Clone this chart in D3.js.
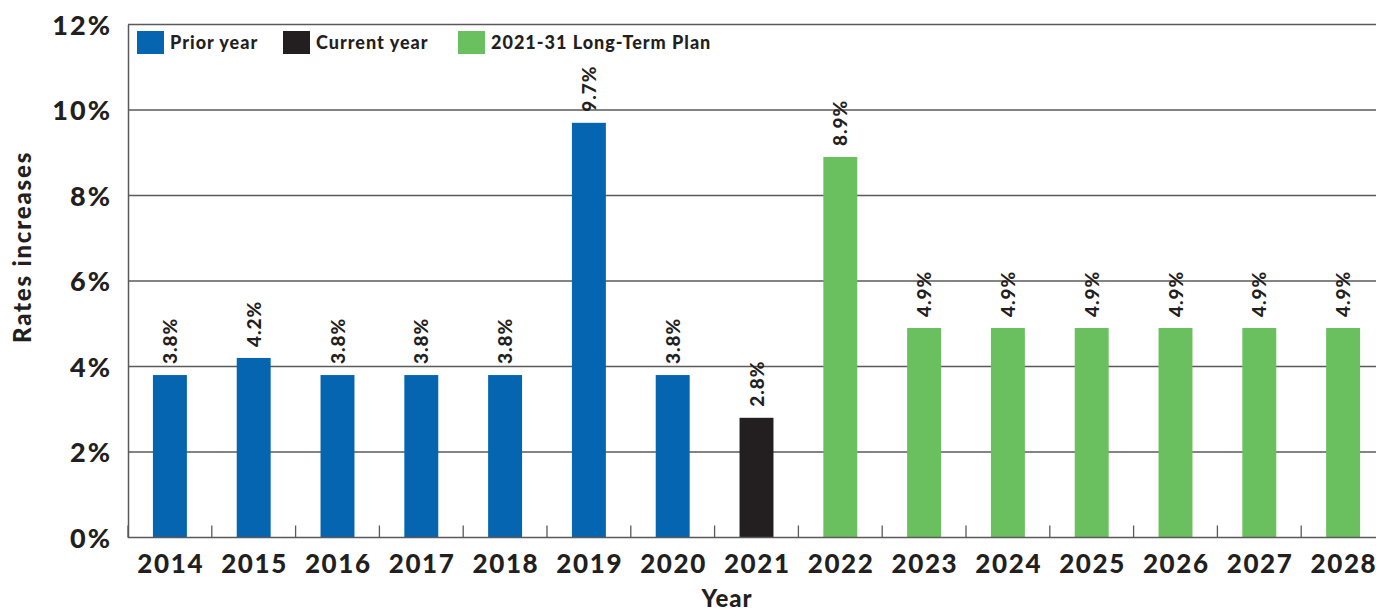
<!DOCTYPE html>
<html><head><meta charset="utf-8">
<script src="https://cdn.jsdelivr.net/npm/d3@7"></script>
<style>
html,body{margin:0;padding:0;background:#fff;overflow:hidden}
text{font-family:Lato,"Open Sans",sans-serif;font-weight:900;fill:#231F20}
</style></head>
<body><svg id="c" width="1376" height="612"></svg>
<script>
const years = ["2014","2015","2016","2017","2018","2019","2020","2021","2022","2023","2024","2025","2026","2027","2028"];
const values = [3.8,4.2,3.8,3.8,3.8,9.7,3.8,2.8,8.9,4.9,4.9,4.9,4.9,4.9,4.9];
const groups = ["prior","prior","prior","prior","prior","prior","prior","current","plan","plan","plan","plan","plan","plan","plan"];
const seriesKeys = ["prior","current","plan"];
const seriesNames = ["Prior year","Current year","2021-31 Long-Term Plan"];
const seriesColors = ["#0565B0","#231F20","#6ABF5E"];
const yTicks = [0,2,4,6,8,10,12];

const svg = d3.select("#c");
const L = 128, R = 1385, T = 24.5, B = 537.5;
const x = d3.scaleBand().domain(years).range([L,R]).paddingInner(0.595).paddingOuter(0.2975);
const y = d3.scaleLinear().domain([0,12]).range([B,T]);
const color = d3.scaleOrdinal().domain(seriesKeys).range(seriesColors);
const step = x.step();

// gridlines
svg.append("g").selectAll("line").data(yTicks.filter(d=>d>0)).join("line")
  .attr("x1",L).attr("x2",1376).attr("y1",d=>y(d)).attr("y2",d=>y(d))
  .attr("stroke","#5a5a5a").attr("stroke-width",1.3);

// y axis
const ya = svg.append("g").attr("transform",`translate(${L},0)`)
  .call(d3.axisLeft(y).tickValues(yTicks).tickSize(0).tickPadding(16).tickFormat(d=>d+"%"));
ya.select(".domain").attr("stroke","#5a5a5a").attr("stroke-width",1.5);
ya.selectAll("text").style("font-size","27px").style("letter-spacing","2px").attr("dy","0.36em").style("fill","#231F20");

// bars
svg.append("g").selectAll("rect").data(years).join("rect")
  .attr("x",d=>x(d)).attr("width",x.bandwidth())
  .attr("y",(d,i)=>y(values[i])).attr("height",(d,i)=>B-y(values[i]))
  .attr("fill",(d,i)=>color(groups[i]));

// x axis baseline and boundary ticks
svg.append("line").attr("x1",L).attr("x2",1376).attr("y1",B).attr("y2",B)
  .attr("stroke","#5a5a5a").attr("stroke-width",1.5);
svg.append("g").selectAll("line").data(years.slice(1)).join("line")
  .attr("x1",d=>x(d)-(step-x.bandwidth())/2).attr("x2",d=>x(d)-(step-x.bandwidth())/2)
  .attr("y1",B-12).attr("y2",B).attr("stroke","#5a5a5a").attr("stroke-width",1.3);
svg.append("line").attr("x1",L).attr("x2",L).attr("y1",B-12).attr("y2",B)
  .attr("stroke","#5a5a5a").attr("stroke-width",1.3);

// x labels
const xa = svg.append("g").attr("transform",`translate(0,${B})`)
  .call(d3.axisBottom(x).tickSize(0).tickPadding(0));
xa.select(".domain").remove();
xa.selectAll("text").style("font-size","26px").style("letter-spacing","1.6px").attr("dx","0.8px").attr("dy","0").attr("y",35).style("fill","#231F20");

// value labels
svg.append("g").selectAll("text").data(years).join("text")
  .attr("transform",(d,i)=>`translate(${x(d)+x.bandwidth()/2+7},${y(values[i])-11}) rotate(-90)`)
  .attr("text-anchor","start").style("font-size","19px").style("letter-spacing","1px")
  .text((d,i)=>values[i].toFixed(1)+"%");

// axis titles
svg.append("text").attr("x",727).attr("y",607).attr("text-anchor","middle").style("font-size","24px").style("letter-spacing","1px").text("Year");
svg.append("text").attr("transform","translate(31,247) rotate(-90)").attr("text-anchor","middle").style("font-size","24px").style("letter-spacing","1.8px").text("Rates increases");

// legend
const legX = [137,283,458];
const lg = svg.append("g").selectAll("g").data(seriesKeys).join("g")
  .attr("transform",(d,i)=>`translate(${legX[i]},31)`);
lg.append("rect").attr("width",27).attr("height",23).attr("fill",d=>color(d));
lg.append("text").attr("x",33).attr("y",18).style("font-size","18px").style("letter-spacing","1px").text((d,i)=>seriesNames[i]);
</script></body></html>
